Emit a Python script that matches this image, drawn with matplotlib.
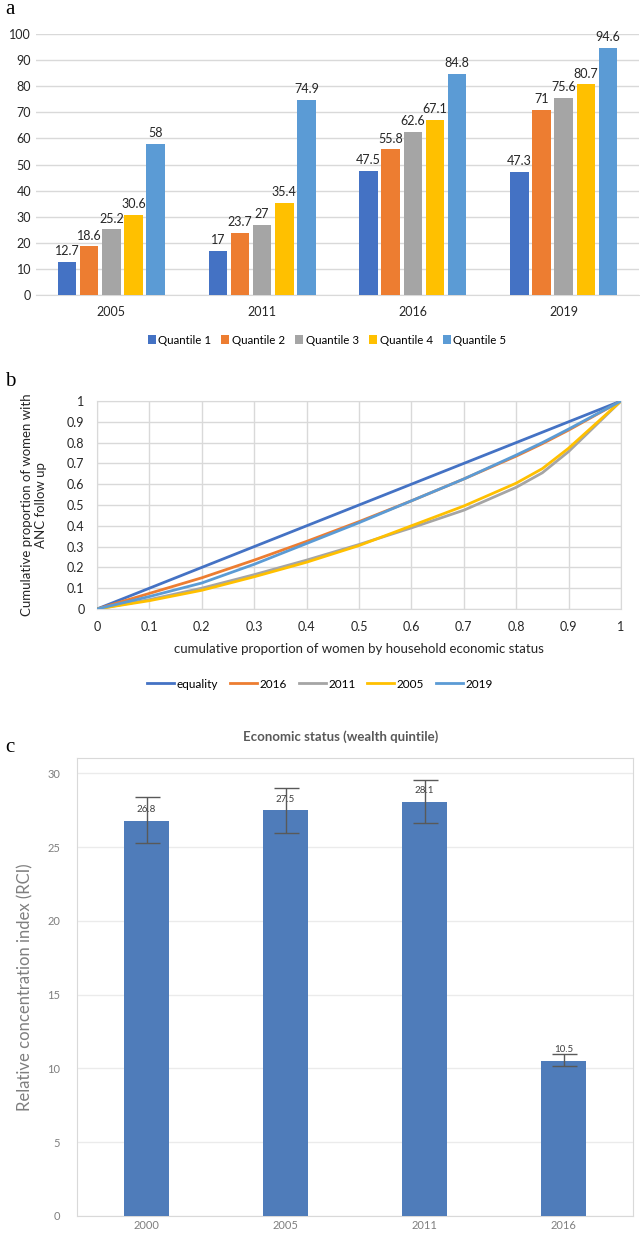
import matplotlib
matplotlib.use("Agg")
import matplotlib.pyplot as plt
import numpy as np
from matplotlib.patches import Patch
from matplotlib.lines import Line2D

# ---------------- data ----------------
years_a = ["2005", "2011", "2016", "2019"]
quantile_names = ["Quantile 1", "Quantile 2", "Quantile 3", "Quantile 4", "Quantile 5"]
q1 = [12.7, 17, 47.5, 47.3]
q2 = [18.6, 23.7, 55.8, 71]
q3 = [25.2, 27, 62.6, 75.6]
q4 = [30.6, 35.4, 67.1, 80.7]
q5 = [58, 74.9, 84.8, 94.6]

x_cum = [0, 0.1, 0.2, 0.3, 0.4, 0.5, 0.6, 0.7, 0.8, 0.85, 0.9, 1.0]
equality = [0, 0.1, 0.2, 0.3, 0.4, 0.5, 0.6, 0.7, 0.8, 0.85, 0.9, 1.0]
c2016 = [0, 0.075, 0.15, 0.235, 0.325, 0.42, 0.52, 0.625, 0.735, 0.795, 0.86, 1.0]
c2011 = [0, 0.045, 0.10, 0.165, 0.235, 0.31, 0.39, 0.475, 0.585, 0.655, 0.757, 1.0]
c2005 = [0, 0.04, 0.09, 0.155, 0.225, 0.305, 0.40, 0.495, 0.605, 0.675, 0.773, 1.0]
c2019 = [0, 0.06, 0.125, 0.215, 0.315, 0.415, 0.52, 0.625, 0.74, 0.80, 0.865, 1.0]
curve_names = ["equality", "2016", "2011", "2005", "2019"]

years_c = ["2000", "2005", "2011", "2016"]
rci = [26.8, 27.5, 28.1, 10.5]
rci_upper = [28.4, 29.05, 29.55, 10.95]
rci_lower = [25.3, 25.95, 26.65, 10.2]

# ---------------- style ----------------
BLUE = "#4472C4"; ORANGE = "#ED7D31"; GRAY = "#A5A5A5"; YELLOW = "#FFC000"; LBLUE = "#5B9BD5"
qcolors = [BLUE, ORANGE, GRAY, YELLOW, LBLUE]
GRID = "#D9D9D9"
TXT = "#262626"
FONT = ["Lato", "DejaVu Sans"]
plt.rcParams["font.family"] = FONT

W, H = 640, 1233
fig = plt.figure(figsize=(W / 100, H / 100), dpi=100)

def rect(l, r, t, b):
    return [l / W, 1 - b / H, (r - l) / W, (b - t) / H]

# ---------------- panel a ----------------
axa = fig.add_axes(rect(36, 639, 34, 295))
n = len(years_a)
xc = np.arange(n)
series = [q1, q2, q3, q4, q5]
slot = 0.147
bw = 0.123
for i, (vals, col, name) in enumerate(zip(series, qcolors, quantile_names)):
    xs = xc + (i - 2) * slot
    axa.bar(xs, vals, width=bw, color=col, label=name, zorder=3)
    for x, v in zip(xs, vals):
        axa.text(x, v + 1.8, f"{v:g}", ha="center", va="bottom", fontsize=9, color=TXT, clip_on=False)
axa.set_xlim(-0.5, n - 0.5)
axa.set_ylim(0, 100)
axa.set_yticks(range(0, 101, 10))
axa.set_xticks(xc)
axa.set_xticklabels(years_a)
axa.grid(axis="y", color=GRID, linewidth=1, zorder=0)
for s in ["left", "right", "top"]:
    axa.spines[s].set_visible(False)
axa.spines["bottom"].set_color(GRID)
axa.tick_params(axis="both", length=0, labelsize=9, colors=TXT)
axa.tick_params(axis="x", pad=8)
fig.text(5 / W, 1 - 10 / H, "a", fontsize=15, family=["Liberation Serif", "DejaVu Serif"], va="center", ha="left")
handles_a = [Patch(facecolor=c, label=nm) for c, nm in zip(qcolors, quantile_names)]
fig.legend(handles=handles_a, loc="center", bbox_to_anchor=(327 / W, 1 - 340 / H), ncol=5, frameon=False,
           fontsize=8.3, handlelength=0.7, handleheight=0.7, handletextpad=0.2, columnspacing=0.9)

# ---------------- panel b ----------------
axb = fig.add_axes(rect(97, 621, 401, 609))
curves = [equality, c2016, c2011, c2005, c2019]
ccolors = [BLUE, ORANGE, GRAY, YELLOW, LBLUE]
for yv, col, nm in zip(curves, ccolors, curve_names):
    axb.plot(x_cum, yv, color=col, linewidth=2, label=nm, zorder=3, solid_capstyle="round")
axb.set_xlim(0, 1)
axb.set_ylim(0, 1)
ticks = [0, 0.1, 0.2, 0.3, 0.4, 0.5, 0.6, 0.7, 0.8, 0.9, 1]
axb.set_xticks(ticks)
axb.set_yticks(ticks)
axb.set_xticklabels([f"{t:g}" for t in ticks])
axb.set_yticklabels([f"{t:g}" for t in ticks])
axb.grid(True, color=GRID, linewidth=1, zorder=0)
for s in axb.spines.values():
    s.set_color(GRID)
axb.tick_params(axis="both", length=0, labelsize=9, colors=TXT)
axb.tick_params(axis="x", pad=9)
axb.tick_params(axis="y", pad=9)
axb.set_xlabel("cumulative proportion of women by household economic status", fontsize=9.5, color=TXT, labelpad=7)
axb.set_ylabel("Cumulative proportion of women with\nANC follow up", fontsize=9.5, color=TXT, labelpad=14)
fig.text(5 / W, 1 - 382 / H, "b", fontsize=15, family=["Liberation Serif", "DejaVu Serif"], va="center", ha="left")
handles_b = [Line2D([0], [0], color=c, linewidth=2, label=nm) for c, nm in zip(ccolors, curve_names)]
fig.legend(handles=handles_b, loc="center", bbox_to_anchor=(320 / W, 1 - 684 / H), ncol=5, frameon=False,
           fontsize=8.5, handlelength=2.3, handletextpad=0.2, columnspacing=1.0)

# ---------------- panel c ----------------
axc = fig.add_axes(rect(77, 633, 758, 1216))
CGRAY = "#7F7F7F"
xc2 = np.arange(len(years_c))
err_lo = [v - lo for v, lo in zip(rci, rci_lower)]
err_hi = [hi - v for v, hi in zip(rci, rci_upper)]
axc.bar(xc2, rci, width=0.32, color="#4F7CBA", zorder=3)
axc.errorbar(xc2, rci, yerr=[err_lo, err_hi], fmt="none", ecolor="#595959", elinewidth=1,
             capsize=9, capthick=1, zorder=4)
for x, v in zip(xc2, rci):
    axc.text(x, v + 0.45, f"{v:g}", ha="center", va="bottom", fontsize=7, color="#404040", zorder=5)
axc.set_xlim(-0.5, len(years_c) - 0.5)
axc.set_ylim(0, 31.05)
axc.set_yticks(range(0, 31, 5))
axc.set_xticks(xc2)
axc.set_xticklabels(years_c)
axc.grid(axis="y", color="#EBEBEB", linewidth=1, zorder=0)
for s in axc.spines.values():
    s.set_color(GRID)
axc.tick_params(axis="both", length=0, labelsize=8, colors=CGRAY)
axc.tick_params(axis="y", pad=12)
axc.tick_params(axis="x", pad=3)
axc.set_ylabel("Relative concentration index (RCI)", fontsize=12, color=CGRAY, labelpad=10)
fig.text(341 / W, 1 - 737 / H, "Economic status (wealth quintile)", fontsize=9.5, color="#595959",
         ha="center", va="center", fontweight="bold")
fig.text(5 / W, 1 - 747 / H, "c", fontsize=15, family=["Liberation Serif", "DejaVu Serif"], va="center", ha="left")

fig.savefig("out.png", dpi=100)
